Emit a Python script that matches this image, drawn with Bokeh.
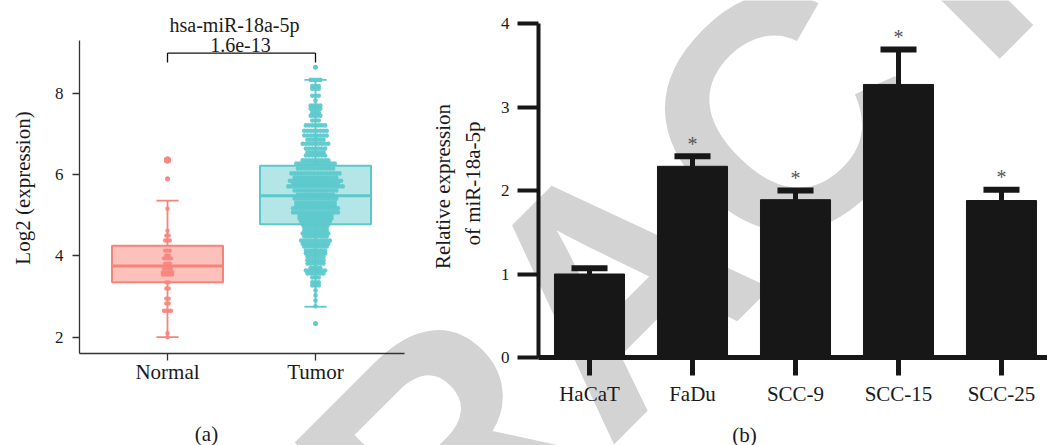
import numpy as np
from bokeh.plotting import figure
from bokeh.models import Range1d, FixedTicker, Label, LinearAxis
from bokeh.embed import file_html
from bokeh.resources import INLINE
from bokeh.core.properties import value

# ---------------- Panel (a) data ----------------
groups = ["Normal", "Tumor"]
group_pos = [1, 2]
q1 = [3.35, 4.78]
median = [3.75, 5.48]
q3 = [4.25, 6.22]
whisker_lo = [2.00, 2.75]
whisker_hi = [5.36, 8.33]
normal_outliers = [6.36, 6.36, 5.90]
tumor_outliers = [8.64, 2.34]

normal_levels = [5.16, 4.62, 4.50, 4.38, 4.13, 4.01, 3.94, 3.81, 3.69, 3.59,
                 3.54, 3.35, 3.20, 2.95, 2.83, 2.65, 2.10, 2.00]
normal_counts = [1, 1, 2, 3, 3, 2, 4, 3, 4, 5, 5, 2, 2, 2, 2, 4, 1, 1]

tumor_levels = [8.33, 8.18, 8.11, 7.94, 7.82, 7.70, 7.62, 7.53, 7.45, 7.33,
                7.21, 7.08, 6.96, 6.86, 6.76, 6.64, 6.54, 6.47, 6.35, 6.27,
                6.15, 6.03, 5.93, 5.85, 5.78, 5.71, 5.61, 5.51, 5.41, 5.31,
                5.24, 5.17, 5.07, 4.99, 4.92, 4.85, 4.77, 4.70, 4.62, 4.55,
                4.48, 4.38, 4.30, 4.23, 4.13, 4.06, 3.98, 3.89, 3.81, 3.71,
                3.64, 3.57, 3.47, 3.35, 3.27, 3.15, 3.03, 2.90, 2.76]
tumor_counts = [4, 3, 3, 3, 1, 4, 4, 3, 4, 3,
                7, 8, 8, 6, 9, 7, 6, 7, 9, 13,
                12, 16, 14, 17, 15, 18, 14, 12, 14, 13,
                13, 15, 15, 11, 11, 10, 9, 8, 8, 9,
                8, 10, 9, 8, 7, 7, 6, 6, 6, 4,
                7, 6, 3, 3, 3, 1, 1, 1, 1]

gene_title = "hsa-miR-18a-5p"
p_value_text = "1.6e-13"
y_ticks_a = [2, 4, 6, 8]
y_lim_a = (1.6, 9.3)

# ---------------- Panel (b) data ----------------
cell_lines = ["HaCaT", "FaDu", "SCC-9", "SCC-15", "SCC-25"]
rel_expr = [1.00, 2.29, 1.89, 3.27, 1.88]
rel_err = [0.07, 0.12, 0.11, 0.42, 0.13]
signif = ["", "*", "*", "*", "*"]
y_ticks_b = [0, 1, 2, 3, 4]
y_lim_b = (0, 4)

# ---------------- page geometry (pixels) ----------------
SERIF = "Liberation Serif"
TXT = "#1a1a1a"
W, H = 1047, 445


# panel a: x=1 at page x 167, 148 px per unit; y=2 at page y 336.7, 40.65 px per unit
def pa_x(px):
    return 1 + (px - 167.0) / 148.0


def pa_y(py):
    return 2 + (336.7 - py) / 40.65


# panel b: x=0 at page x 589, 103 px per unit; y=0 at page y 357, 83.5 px per unit
def pb_x(px):
    return (px - 589.0) / 103.0


def pb_y(py):
    return (357.0 - py) / 83.5


p = figure(width=W, height=H,
           x_range=Range1d(pa_x(0), pa_x(W)), y_range=Range1d(pa_y(H), pa_y(0)),
           output_backend="svg", toolbar_location=None,
           min_border=0, min_border_left=0, min_border_right=0,
           min_border_top=0, min_border_bottom=0)
p.extra_x_ranges = {"bx": Range1d(pb_x(0), pb_x(W))}
p.extra_y_ranges = {"by": Range1d(pb_y(H), pb_y(0))}
p.outline_line_color = None
p.grid.visible = False
B = dict(x_range_name="bx", y_range_name="by")

# background watermark
p.add_layout(Label(x=pa_x(611), y=pa_y(284.5), text="RETRACTED", angle=45, angle_units="deg",
                   text_font="Liberation Sans", text_font_style="bold", text_font_size="330px",
                   text_color="#d3d3d3", text_align="center", text_baseline="middle",
                   level="underlay"))


def add_text(x, y, text, size="21px", angle=0, align="center", baseline="alphabetic",
             color=TXT, **kw):
    p.add_layout(Label(x=x, y=y, text=text, text_font=SERIF, text_font_size=size,
                       text_color=color, angle=angle, angle_units="deg",
                       text_align=align, text_baseline=baseline, **kw))


# ================= Panel (a) =================
NORMAL_LINE, NORMAL_FILL, NORMAL_DOT = "#F8837B", "#FBC1BA", "#F7877F"
TUMOR_LINE, TUMOR_FILL, TUMOR_DOT = "#5CC8CB", "#B4E6E7", "#5DC9CC"
line_cols = [NORMAL_LINE, TUMOR_LINE]
fill_cols = [NORMAL_FILL, TUMOR_FILL]
BOX_W = 0.75
CAP_W = 0.15

p.quad(left=[g - BOX_W / 2 for g in group_pos], right=[g + BOX_W / 2 for g in group_pos],
       bottom=q1, top=q3, fill_color=fill_cols, line_color=line_cols, line_width=2)
p.segment(x0=group_pos, y0=q3, x1=group_pos, y1=whisker_hi, line_color=line_cols, line_width=1.8)
p.segment(x0=group_pos, y0=q1, x1=group_pos, y1=whisker_lo, line_color=line_cols, line_width=1.8)
p.segment(x0=[g - CAP_W / 2 for g in group_pos], y0=whisker_hi,
          x1=[g + CAP_W / 2 for g in group_pos], y1=whisker_hi, line_color=line_cols, line_width=1.8)
p.segment(x0=[g - CAP_W / 2 for g in group_pos], y0=whisker_lo,
          x1=[g + CAP_W / 2 for g in group_pos], y1=whisker_lo, line_color=line_cols, line_width=1.8)


def stack(center, levels, counts, step):
    xs, ys = [], []
    for lv, n in zip(levels, counts):
        for i in range(n):
            xs.append(center + (i - (n - 1) / 2) * step)
            ys.append(lv)
    return xs, ys


nx, ny = stack(group_pos[0], normal_levels, normal_counts, 2.3 / 148.0)
tx, ty = stack(group_pos[1], tumor_levels, tumor_counts, 3.2 / 148.0)
p.scatter(tx, ty, size=4.6, fill_color=TUMOR_DOT, line_color=None, fill_alpha=0.95)
p.scatter(nx, ny, size=4.4, fill_color=NORMAL_DOT, line_color=None, fill_alpha=0.95)
p.scatter([group_pos[0]] * len(normal_outliers), normal_outliers,
          size=[7, 7, 5], fill_color=NORMAL_DOT, line_color=None)
p.scatter([group_pos[1]] * len(tumor_outliers), tumor_outliers,
          size=5, fill_color=TUMOR_DOT, line_color=None)
p.segment(x0=[g - BOX_W / 2 for g in group_pos], y0=median,
          x1=[g + BOX_W / 2 for g in group_pos], y1=median, line_color=line_cols, line_width=3)

# significance bracket
br_y, br_drop = 8.99, 0.23
p.segment(x0=[group_pos[0], group_pos[0], group_pos[1]], y0=[br_y, br_y, br_y],
          x1=[group_pos[1], group_pos[0], group_pos[1]], y1=[br_y, br_y - br_drop, br_y - br_drop],
          line_color="#111111", line_width=1.3)

add_text(pa_x(234), pa_y(24.5), gene_title, size="20px")
add_text(pa_x(240), pa_y(44.5), p_value_text, size="20px")
add_text(pa_x(22), pa_y(187.5), "Log2 (expression)", angle=90, baseline="middle")
add_text(pa_x(206), pa_y(433), "(a)")

xa = p.xaxis[0]
ya = p.yaxis[0]
xa.fixed_location = y_lim_a[0]
xa.bounds = (pa_x(79), pa_x(404))
ya.fixed_location = pa_x(79)
ya.bounds = y_lim_a
xa.ticker = FixedTicker(ticks=group_pos)
xa.major_label_overrides = {g: n for g, n in zip(group_pos, groups)}
ya.ticker = FixedTicker(ticks=y_ticks_a)
for ax in (xa, ya):
    ax.axis_line_color = "#333333"
    ax.axis_line_width = 1.3
    ax.major_tick_line_color = "#333333"
    ax.major_tick_line_width = 1.3
    ax.major_tick_in = 0
    ax.major_tick_out = 7
    ax.minor_tick_line_color = None
    ax.major_label_text_font = SERIF
    ax.major_label_text_color = TXT
xa.major_label_text_font_size = "21px"
xa.major_label_standoff = 0
ya.major_label_text_font_size = "17px"
ya.major_label_standoff = 9

# ================= Panel (b) =================
BAR = "#171717"
xb = list(range(len(cell_lines)))
err_top = [v + e for v, e in zip(rel_expr, rel_err)]
p.vbar(x=xb, top=rel_expr, bottom=0, width=0.68, fill_color=BAR, line_color=BAR,
       line_width=1, **B)
p.segment(x0=xb, y0=rel_expr, x1=xb, y1=err_top, line_color=BAR, line_width=5, **B)
p.rect(x=xb, y=err_top, width=0.35, height=6, height_units="screen",
       fill_color=BAR, line_color=None, **B)
sx = [x for x, s in zip(xb, signif) if s]
sy = [t + 0.15 for t, s in zip(err_top, signif) if s]
p.text(x=sx, y=sy, text=[s for s in signif if s], text_font=value(SERIF),
       text_font_size="20px", text_color="#555555", text_align="center",
       text_baseline="alphabetic", **B)

add_text(pb_x(442), pb_y(186), "Relative expression", angle=90, baseline="middle", **B)
add_text(pb_x(472), pb_y(183), "of miR-18a-5p", angle=90, baseline="middle", **B)
add_text(pb_x(744), pb_y(434), "(b)", **B)

xb_axis = LinearAxis(x_range_name="bx", y_range_name="by")
yb_axis = LinearAxis(x_range_name="bx", y_range_name="by")
xb_axis.fixed_location = y_lim_b[0]
xb_axis.bounds = (pb_x(538), pb_x(W))
yb_axis.fixed_location = pb_x(538)
yb_axis.bounds = y_lim_b
xb_axis.ticker = FixedTicker(ticks=xb)
xb_axis.major_label_overrides = {x: n for x, n in zip(xb, cell_lines)}
yb_axis.ticker = FixedTicker(ticks=y_ticks_b)
for ax in (xb_axis, yb_axis):
    ax.axis_line_color = BAR
    ax.major_tick_line_color = BAR
    ax.major_tick_in = 0
    ax.minor_tick_line_color = None
    ax.major_label_text_font = SERIF
    ax.major_label_text_color = TXT
yb_axis.axis_line_width = 4
yb_axis.major_tick_line_width = 4
yb_axis.major_tick_out = 21
yb_axis.major_label_text_font_size = "17px"
yb_axis.major_label_standoff = 8
xb_axis.axis_line_width = 5
xb_axis.major_tick_line_width = 5
xb_axis.major_tick_out = 18
xb_axis.major_label_text_font_size = "21px"
xb_axis.major_label_standoff = 6
p.add_layout(xb_axis, "below")
p.add_layout(yb_axis, "left")

open("out.html", "w").write(file_html(p, INLINE))
